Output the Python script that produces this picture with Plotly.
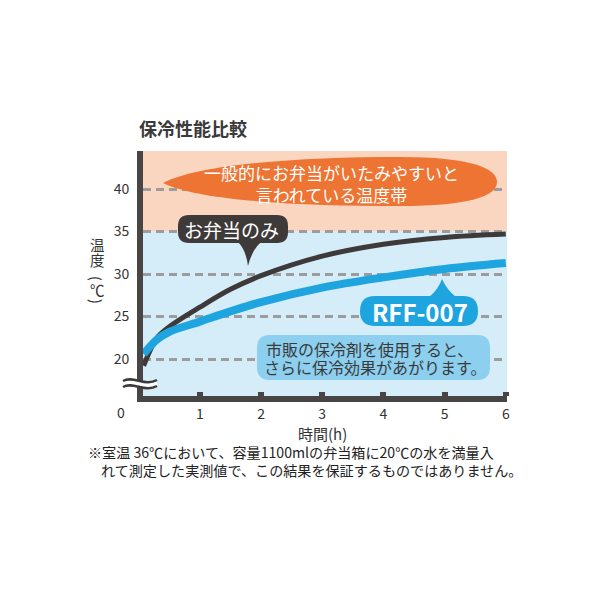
import plotly.graph_objects as go

# ---------------- data ----------------
hours = [0.08, 0.3, 0.5, 1.0, 1.5, 2.0, 3.0, 4.0, 5.0, 6.0]
bento_only = [19.2, 22.5, 23.8, 26.1, 28.2, 29.8, 32.1, 33.5, 34.3, 34.7]
rff007 = [20.6, 22.3, 23.2, 24.4, 25.6, 26.7, 28.4, 29.6, 30.6, 31.3]
x_ticks = [1, 2, 3, 4, 5, 6]
y_ticks = [20, 25, 30, 35, 40]
danger_from = 35

title = "保冷性能比較"
danger_text = "一般的にお弁当がいたみやすいと<br>言われている温度帯"
label_dark = "お弁当のみ"
label_blue = "RFF-007"
note_line1 = "市販の保冷剤を使用すると、"
note_line2 = "さらに保冷効果があがります。"
x_title = "時間(h)"
y_title_chars = ["温", "度", "(", "℃", ")"]
foot1 = "※室温 36℃において、容量1100mlの弁当箱に20℃の水を満量入"
foot2 = "れて測定した実測値で、この結果を保証するものではありません。"

FONT = "Noto Sans CJK JP"
DARK = "#3e3a39"
BLUE = "#1ea5e0"
ORANGE = "#ee7433"
PEACH = "#fad6c0"
SKY = "#d5ecf9"
BOX = "#8ccfef"

# page body has an 8px margin: the figure starts at page pixel (8, 8)
O = 8
W, H = 600 - O, 600 - O
L, R, T, B = 143 - O, 93, 151 - O, 204
PW, PH = W - L - R, H - T - B


def px(x):  # page pixel -> paper
    return (x - O - L) / PW


def py(y):
    return (O + T + PH - y) / PH


def P(x, y):
    return f"{px(x):.5f},{py(y):.5f}"


def roundrect(x0, y0, x1, y1, r):
    return (f"M {P(x0 + r, y0)} L {P(x1 - r, y0)} Q {P(x1, y0)} {P(x1, y0 + r)} "
            f"L {P(x1, y1 - r)} Q {P(x1, y1)} {P(x1 - r, y1)} L {P(x0 + r, y1)} "
            f"Q {P(x0, y1)} {P(x0, y1 - r)} L {P(x0, y0 + r)} Q {P(x0, y0)} {P(x0 + r, y0)} Z")


fig = go.Figure()
fig.add_trace(go.Scatter(x=hours, y=bento_only, mode="lines",
                         line=dict(color=DARK, width=5, shape="spline"),
                         hoverinfo="skip", showlegend=False))
fig.add_trace(go.Scatter(x=hours, y=rff007, mode="lines",
                         line=dict(color=BLUE, width=8, shape="spline"),
                         hoverinfo="skip", showlegend=False))

shapes = [
    dict(type="rect", xref="paper", yref="y", x0=0, x1=1, y0=15.65, y1=danger_from,
         fillcolor=SKY, line=dict(width=0), layer="below"),
    dict(type="rect", xref="paper", yref="y", x0=0, x1=1, y0=danger_from, y1=44.47,
         fillcolor=PEACH, line=dict(width=0), layer="below"),
]
# orange teardrop
shapes.append(dict(type="path", xref="paper", yref="paper", layer="above",
                   path=(f"M {P(163,183)} C {P(200,164)} {P(300,157)} {P(400,157)} "
                         f"C {P(470,157)} {P(497,168)} {P(497,182)} "
                         f"C {P(497,196)} {P(470,206)} {P(400,206)} "
                         f"C {P(300,206)} {P(200,201)} {P(163,183)} Z"),
                   fillcolor=ORANGE, line=dict(width=0)))
# dark bubble
shapes.append(dict(type="path", xref="paper", yref="paper", layer="above",
                   path=roundrect(178, 215, 288, 243, 11), fillcolor=DARK, line=dict(width=0)))
shapes.append(dict(type="path", xref="paper", yref="paper", layer="above",
                   path=f"M {P(238,242)} Q {P(246,250)} {P(248,266)} Q {P(252,250)} {P(261,242)} Z",
                   fillcolor=DARK, line=dict(width=0)))
# blue bubble
shapes.append(dict(type="path", xref="paper", yref="paper", layer="above",
                   path=roundrect(360, 296, 478, 326, 15), fillcolor=BLUE, line=dict(width=0)))
shapes.append(dict(type="path", xref="paper", yref="paper", layer="above",
                   path=f"M {P(429,297)} Q {P(438,290)} {P(442,279)} Q {P(447,290)} {P(456,297)} Z",
                   fillcolor=BLUE, line=dict(width=0)))
# light note box
shapes.append(dict(type="path", xref="paper", yref="paper", layer="above",
                   path=roundrect(257, 335, 490, 380, 13), fillcolor=BOX, line=dict(width=0)))
# axis break
shapes.append(dict(type="path", xref="paper", yref="paper", layer="above",
                   path=(f"M {P(123,381)} C {P(133,375)} {P(145,387)} {P(157,380)} "
                         f"L {P(157,386)} C {P(145,393)} {P(133,381)} {P(123,387)} Z"),
                   fillcolor="white", line=dict(width=0)))
for dy in (0, 6):
    shapes.append(dict(type="path", xref="paper", yref="paper", layer="above",
                       path=f"M {P(123,381+dy)} C {P(133,375+dy)} {P(145,387+dy)} {P(157,380+dy)}",
                       line=dict(color=DARK, width=2.5)))


def text(x, y, s, size, color="#333", anchor="center", align="center", angle=0):
    return dict(x=px(x), y=py(y), xref="paper", yref="paper", text=s, showarrow=False,
                xanchor=anchor, yanchor="middle", align=align, textangle=angle,
                font=dict(family=FONT, size=size, color=color))


ann = [
    text(137, 128, f"<b>{title}</b>", 18, "#3a3a3a", "left"),
    text(331, 183, danger_text, 17, "white"),
    text(231, 229, label_dark, 19, "white"),
    text(420, 311, f"<b>{label_blue}</b>", 24, "white"),
    text(264, 349, note_line1, 16, "#3a3a3a", "left"),
    text(262, 367, note_line2, 16, "#3a3a3a", "left"),
    text(121, 412, "0", 14),
    text(322, 433, x_title, 15),
    text(86, 452, foot1, 14.1, "#222", "left"),
    text(99, 470, foot2, 14.1, "#222", "left"),
]
for ch, yy in zip(y_title_chars, [244, 259, 278, 289, 301]):
    ann.append(text(97, yy, ch, 14.5, angle=90 if ch in "()" else 0))

fig.update_layout(
    width=W, height=H, margin=dict(l=L, r=R, t=T, b=B, autoexpand=False),
    paper_bgcolor="white", plot_bgcolor="rgba(0,0,0,0)",
    shapes=shapes, annotations=ann, showlegend=False,
    font=dict(family=FONT, color="#333"),
)
fig.update_xaxes(range=[0.07, 6.02], tickvals=x_ticks, ticks="inside", ticklen=4, tickwidth=6,
                 tickcolor="#4a4545", showline=True, linewidth=6, linecolor="#4a4545",
                 showgrid=False, zeroline=False, tickfont=dict(family=FONT, size=14, color="#333"),
                 fixedrange=True)
fig.update_yaxes(range=[15.65, 44.47], tickvals=y_ticks, ticks="", showline=True, linewidth=6,
                 linecolor="#4a4545", showgrid=True, gridcolor="#9c9c9c", gridwidth=3,
                 griddash="8px,5px", zeroline=False, ticklabelstandoff=5,
                 tickfont=dict(family=FONT, size=14, color="#333"), fixedrange=True)

fig.write_html("out.html")
